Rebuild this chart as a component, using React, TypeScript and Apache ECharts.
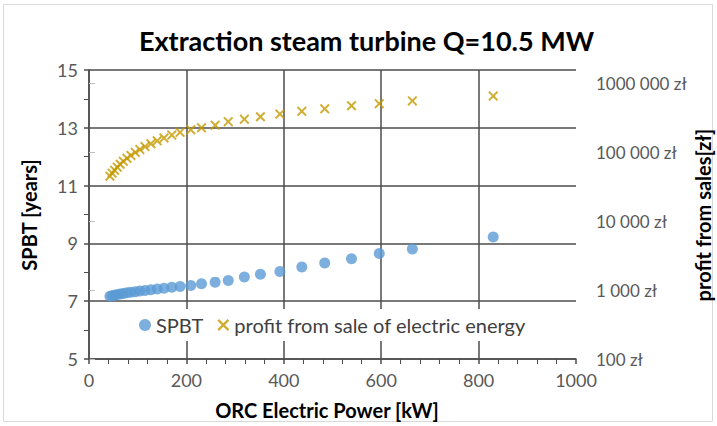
import React, { useEffect, useRef } from "react";
import * as echarts from "echarts";

const powerKW = [43, 47.5, 52.5, 58, 64, 70.5, 78, 86, 95, 104.5, 115, 127, 140, 154, 170, 187, 209, 231, 259, 286, 319, 352, 392, 437, 484, 539, 596, 664, 830];
const spbtYears = [7.17, 7.19, 7.21, 7.23, 7.25, 7.27, 7.29, 7.31, 7.33, 7.35, 7.37, 7.4, 7.42, 7.45, 7.48, 7.51, 7.54, 7.6, 7.66, 7.72, 7.84, 7.93, 8.03, 8.18, 8.32, 8.47, 8.65, 8.81, 9.22];
const profitZl = [44700, 49300, 54600, 60300, 66500, 73300, 81100, 89300, 98600, 108600, 119700, 131800, 145200, 159600, 176200, 193000, 210000, 224000, 245000, 275000, 299000, 324000, 355000, 389000, 422000, 468000, 501000, 550000, 646000];

const rightTickValues = [100, 1000, 10000, 100000, 1000000];
const rightTickLabels = ["100 zł", "1 000 zł", "10 000 zł", "100 000 zł", "1000 000 zł"];

const titleText = "Extraction steam turbine Q=10.5 MW";
const xName = "ORC Electric Power [kW]";
const yLeftName = "SPBT [years]";
const yRightName = "profit from sales[zł]";
const seriesNames = ["SPBT", "profit from sale of electric energy"];

const FONT = "Lato, 'Open Sans', sans-serif";
const BLUE = "#5B9BD5";
const GOLD = "#C49A00";
const GRID = "#4d4d4d";
const LABEL = "#595959";
const CROSS = "path://M0,1.4L1.4,0L5,3.6L8.6,0L10,1.4L6.4,5L10,8.6L8.6,10L5,6.4L1.4,10L0,8.6L3.6,5Z";

export default function App() {
  const ref = useRef<HTMLDivElement>(null);
  useEffect(() => {
    if (!ref.current) return;
    const chart = echarts.init(ref.current, null, { renderer: "svg" });
    const spbtData = powerKW.map((x, i) => [x, spbtYears[i]]);
    const profitData = powerKW.map((x, i) => [x, profitZl[i]]);
    const gridPos = { left: 89, right: 141, bottom: 67 };
    chart.setOption({
      animation: false,
      backgroundColor: "#fff",
      title: {
        text: titleText,
        left: 134,
        top: 22,
        textStyle: { fontFamily: FONT, fontSize: 27, fontWeight: "bold", color: "#000" },
      },
      graphic: [
        {
          type: "rect",
          shape: { x: 3.5, y: 4.5, width: 709, height: 417 },
          style: { fill: "none", stroke: "#d9d9d9", lineWidth: 1 },
          silent: true,
        },
        {
          type: "text",
          x: 29,
          y: 215,
          rotation: Math.PI / 2,
          style: { text: yLeftName, font: `bold 20px ${FONT}`, fill: "#000", textAlign: "center", textVerticalAlign: "middle" },
        },
        {
          type: "text",
          x: 703,
          y: 215,
          rotation: Math.PI / 2,
          style: { text: yRightName, font: `bold 20px ${FONT}`, fill: "#000", textAlign: "center", textVerticalAlign: "middle" },
        },
        {
          type: "text",
          x: 327,
          y: 410,
          style: { text: xName, font: `bold 20px ${FONT}`, fill: "#000", textAlign: "center", textVerticalAlign: "middle" },
        },
      ],
      legend: {
        left: 133,
        top: 309,
        backgroundColor: "#fff",
        padding: [6, 6, 6, 6],
        itemGap: 14,
        itemWidth: 12,
        itemHeight: 12,
        textStyle: { fontFamily: FONT, fontSize: 20, color: "#404040" },
        data: seriesNames,
      },
      grid: [
        { ...gridPos, top: 70 },
        { ...gridPos, top: 83 },
      ],
      xAxis: [
        {
          type: "value",
          gridIndex: 0,
          min: 0,
          max: 1000,
          interval: 200,
          axisLine: { show: true, lineStyle: { color: GRID, width: 1.5 } },
          axisTick: { show: true, length: 5, lineStyle: { color: GRID, width: 1.5 } },
          minorTick: { show: true, splitNumber: 5, length: 5, lineStyle: { color: GRID, width: 1 } },
          splitLine: { show: true, showMaxLine: false, lineStyle: { color: GRID, width: 1.5 } },
          axisLabel: { fontFamily: FONT, fontSize: 18, color: LABEL, margin: 12, formatter: (v: number) => String(v) },
        },
        {
          type: "value",
          gridIndex: 1,
          min: 0,
          max: 1000,
          show: false,
        },
      ],
      yAxis: [
        {
          type: "value",
          gridIndex: 0,
          min: 5,
          max: 15,
          interval: 2,
          position: "left",
          axisLine: { show: true, lineStyle: { color: GRID, width: 1.5 } },
          axisTick: { show: true, length: 5, lineStyle: { color: GRID, width: 1.5 } },
          minorTick: { show: true, splitNumber: 2, length: 5, lineStyle: { color: GRID, width: 1 } },
          splitLine: { show: true, lineStyle: { color: GRID, width: 1.5 } },
          axisLabel: { fontFamily: FONT, fontSize: 18, color: LABEL, margin: 11 },
        },
        {
          type: "log",
          gridIndex: 1,
          logBase: 10,
          min: 100,
          max: 1000000,
          position: "right",
          axisLine: { show: false },
          axisTick: { show: true, length: 6, lineStyle: { color: "#bfbfbf", width: 1 } },
          splitLine: { show: false },
          axisLabel: {
            fontFamily: FONT,
            fontSize: 17,
            color: LABEL,
            margin: 20,
            formatter: (v: number) => {
              const idx = rightTickValues.findIndex((t) => Math.abs(t - v) / t < 1e-6);
              return idx >= 0 ? rightTickLabels[idx] : "";
            },
          },
        },
      ],
      series: [
        {
          name: seriesNames[0],
          type: "scatter",
          xAxisIndex: 0,
          yAxisIndex: 0,
          symbol: "circle",
          symbolSize: 11,
          itemStyle: { color: BLUE },
          data: spbtData,
          z: 3,
        },
        {
          name: seriesNames[1],
          type: "scatter",
          xAxisIndex: 1,
          yAxisIndex: 1,
          symbol: CROSS,
          symbolSize: 10,
          itemStyle: { color: GOLD },
          data: profitData,
          z: 3,
        },
      ],
    });
    return () => chart.dispose();
  }, []);
  return <div ref={ref} style={{ position: "fixed", left: 0, top: 0, width: 717, height: 426 }} />;
}
